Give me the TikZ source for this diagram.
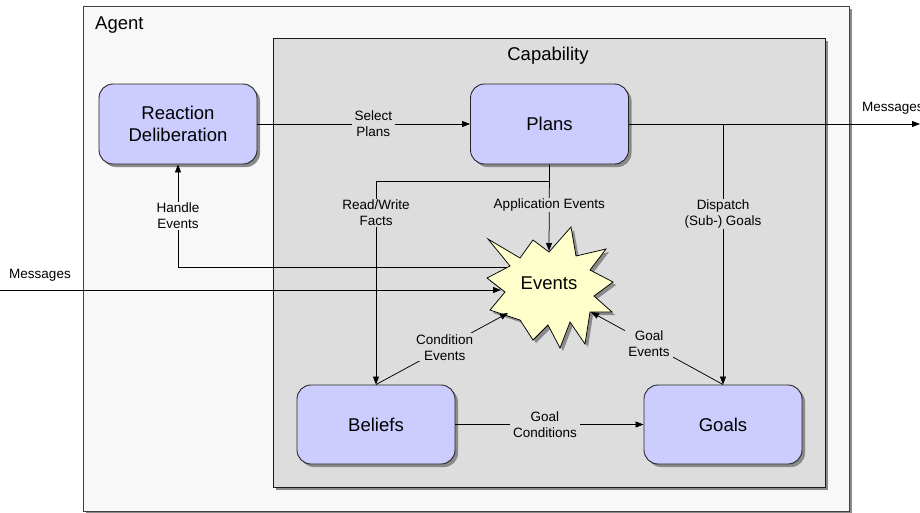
\documentclass[tikz,border=0pt]{standalone}
\usepackage{fontspec}
\setmainfont{Liberation Sans}
\usetikzlibrary{arrows.meta,shadows}
\definecolor{agentfill}{HTML}{F8F8F8}
\definecolor{capfill}{HTML}{DDDDDD}
\definecolor{boxfill}{HTML}{CCCCFF}
\definecolor{starfill}{HTML}{FFFFCC}
\definecolor{shadowc}{HTML}{8A8A8A}
\begin{document}
\begin{tikzpicture}[x=1pt,y=-1pt,
  box/.style={draw=black!85, line width=0.9pt, fill=boxfill, rounded corners=14pt,
    minimum width=158pt, minimum height=80pt, inner sep=0pt, align=center,
    font=\fontsize{18.5}{21.5}\selectfont,
    drop shadow={shadow xshift=3pt, shadow yshift=-3pt, fill=shadowc, opacity=1}},
  container/.style={line width=0.9pt, inner sep=0pt,
    drop shadow={shadow xshift=3pt, shadow yshift=-3pt, fill=shadowc, opacity=1}},
  conn/.style={line width=0.75pt, -{Triangle[length=8pt,width=6pt]}},
  plain/.style={line width=0.75pt},
  lbl/.style={font=\fontsize{13.5}{16}\selectfont, align=center, inner xsep=3pt, inner ysep=1pt, fill=capfill},
  txt/.style={font=\fontsize{13.5}{16}\selectfont, align=center, inner sep=0pt},
  title/.style={font=\fontsize{18.5}{21.5}\selectfont, inner sep=0pt}
]
\useasboundingbox (0,0) rectangle (920,512);
\fill[white] (0,0) rectangle (920,512);

% containers
\node[container, draw=black!75, fill=agentfill, minimum width=766pt, minimum height=505pt] (agent) at (466,258.5) {};
\node[title, anchor=west] (agentlbl) at (95,25) {Agent};
\node[container, draw=black!90, fill=capfill, minimum width=552pt, minimum height=449pt] (cap) at (549,262.5) {};
\node[title] (caplbl) at (548,56) {Capability};

% boxes
\node[box] (rd) at (178,124) {Reaction\\Deliberation};
\node[box] (plans) at (549.5,124) {Plans};
\node[box, minimum height=79pt] (bel) at (376,424.5) {Beliefs};
\node[box, minimum height=79pt] (goals) at (723,424.5) {Goals};

% coordinates on / in the star
\coordinate (evW) at (520,267);
\coordinate (evN) at (549,251);
\coordinate (evM) at (501,290);
\coordinate (evC) at (508,313);
\coordinate (evG) at (591,312);
\coordinate (msgL) at (0,290);
\coordinate (msgR) at (920,124);
\coordinate (rwY) at (0,181);

% handle events (starts inside the star)
\draw[conn] (evW) -| node[lbl, fill=agentfill, pos=0.75] (hlbl) {Handle\\Events} (rd.south);

% star shadow + star
\begin{scope}[shift={(3,3)}]
\fill[shadowc] (488,239) -- (520,258) -- (533,240) -- (549,252) -- (571,227) -- (576,256) -- (606,249) -- (590,270) -- (613,282) -- (594,296) -- (612,312) -- (590,312) -- (585,344) -- (570,322) -- (560,348) -- (548,325) -- (533,340) -- (520,320) -- (490,310) -- (505,292) -- (487,278) -- (510,266) -- cycle;
\end{scope}
\draw[fill=starfill, line width=0.75pt, line join=miter] (488,239) -- (520,258) -- (533,240) -- (549,252) -- (571,227) -- (576,256) -- (606,249) -- (590,270) -- (613,282) -- (594,296) -- (612,312) -- (590,312) -- (585,344) -- (570,322) -- (560,348) -- (548,325) -- (533,340) -- (520,320) -- (490,310) -- (505,292) -- (487,278) -- (510,266) -- cycle;
\node[title] (ev) at (549,283) {Events};

% connectors
\draw[conn] (rd.east) -- node[lbl, pos=0.545] (splbl) {Select\\Plans} (plans.west);
\draw[conn] (plans.east) -- (msgR);
\node[txt, anchor=west] (msgRl) at (862,108) {Messages};
\draw[conn] (plans.east -| goals.north) -- (goals.north);
\node[lbl] (displbl) at (723,214) {Dispatch\\(Sub-) Goals};
\draw[conn] (plans.south |- rwY) -| (bel.north);
\node[lbl] (rwlbl) at (376,213) {Read/Write\\Facts};
\draw[conn] (plans.south) -- node[lbl, pos=0.47] (aplbl) {Application Events} (evN);
\draw[conn] (msgL) -- (evM);
\node[txt] (msgLl) at (40,275) {Messages};
\draw[conn] (bel.north) -- node[lbl, pos=0.52] (celbl) {Condition\\Events} (evC);
\draw[conn] (goals.north) -- node[lbl, pos=0.56] (gelbl) {Goal\\Events} (evG);
\draw[conn] (bel.east) -- node[lbl, pos=0.476] (gclbl) {Goal\\Conditions} (goals.west);
\end{tikzpicture}
\end{document}
